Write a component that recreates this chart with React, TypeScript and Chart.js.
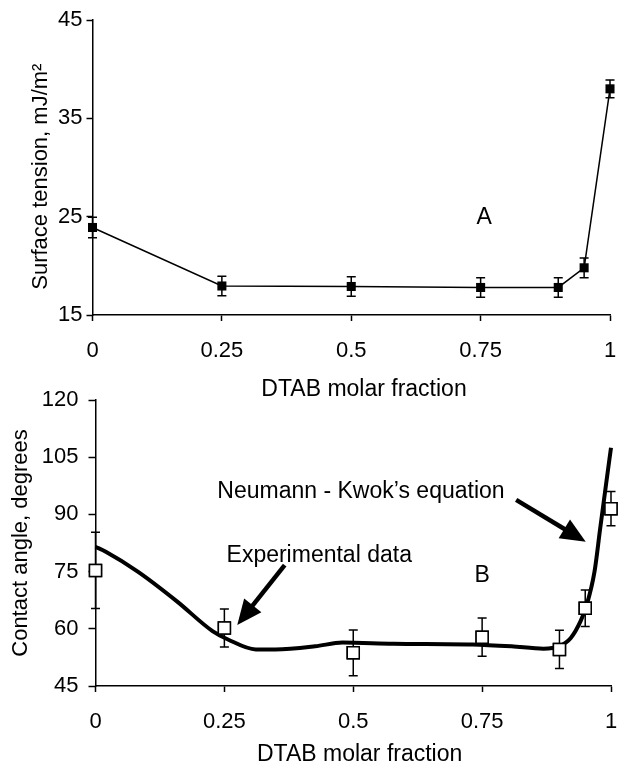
import React, { useEffect, useRef } from "react";
import { Chart, registerables } from "chart.js";

Chart.register(...registerables);

const FONT = '"Liberation Sans", Arial, Helvetica, sans-serif';
const FS = 22;
const FS_TEXT = 23;

// ---- data ----
const X_TICKS = [0, 0.25, 0.5, 0.75, 1];
const X_TICK_LABELS = ["0", "0.25", "0.5", "0.75", "1"];
const X_TITLE = "DTAB molar fraction";

const DTAB_FRACTION = [0, 0.25, 0.5, 0.75, 0.9, 0.95, 1];

const ST_TICKS = [15, 25, 35, 45];
const SURFACE_TENSION = [23.9, 17.95, 17.9, 17.8, 17.8, 19.8, 38];
const SURFACE_TENSION_ERR = [1.05, 1, 1, 1, 1, 1, 0.9];
const ST_TITLE = "Surface tension, mJ/m\u00B2";

const CA_TICKS = [45, 60, 75, 90, 105, 120];
const CONTACT_ANGLE = [75.3, 60.2, 53.7, 57.8, 54.6, 65.4, 91.5];
const CONTACT_ANGLE_ERR = [10, 5, 6, 5, 5, 4.8, 4.5];
const CA_TITLE = "Contact angle, degrees";

const NK_X = [0, 0.02, 0.082, 0.158, 0.227, 0.257, 0.311, 0.349, 0.426, 0.479, 0.578, 0.731, 0.807, 0.869, 0.899, 0.922, 0.941, 0.953, 0.968, 0.979, 0.991, 1.0];
const NK_Y = [81.5, 80.2, 75, 67.2, 59.4, 57.2, 54.6, 54.6, 55.4, 56.4, 56.1, 55.9, 55.4, 54.8, 55.4, 57.6, 62, 66.3, 75, 86.3, 98.5, 107.5];

const TOP_NOTES = [{ x: 0.757, y: 24.9, text: "A" }];
const BOTTOM_NOTES = [
  { x: 0.75, y: 74, text: "B" },
  { x: 0.434, y: 79.1, text: "Experimental data" },
  { x: 0.515, y: 95.9, text: "Neumann - Kwok\u2019s equation" },
];
const BOTTOM_ARROWS = [
  { x1: 0.367, y1: 76.7, x2: 0.275, y2: 61 },
  { x1: 0.816, y1: 93.8, x2: 0.951, y2: 82.8 },
];

// ---- plugins ----
const errorBarPlugin = {
  id: "errorBars",
  afterDatasetsDraw(chart: any, _args: any, opts: any) {
    if (!opts || !opts.errors) return;
    const { ctx, scales } = chart;
    const meta = chart.getDatasetMeta(opts.datasetIndex);
    const ds = chart.data.datasets[opts.datasetIndex];
    ctx.save();
    ctx.strokeStyle = "#000";
    ctx.lineWidth = opts.lineWidth || 1.5;
    ds.data.forEach((p: any, i: number) => {
      const e = opts.errors[i];
      const x = scales.x.getPixelForValue(p.x);
      const yt = scales.y.getPixelForValue(p.y + e);
      const yb = scales.y.getPixelForValue(p.y - e);
      const c = opts.cap;
      ctx.beginPath();
      ctx.moveTo(x, yt);
      ctx.lineTo(x, yb);
      ctx.moveTo(x - c, yt);
      ctx.lineTo(x + c, yt);
      ctx.moveTo(x - c, yb);
      ctx.lineTo(x + c, yb);
      ctx.stroke();
    });
    ctx.restore();
    if (opts.redraw && meta && meta.controller) {
      ctx.save();
      meta.data.forEach((el: any) => el.draw(ctx, chart.chartArea));
      ctx.restore();
    }
  },
};

const notesPlugin = {
  id: "notes",
  afterDraw(chart: any, _args: any, opts: any) {
    if (!opts) return;
    const { ctx, scales } = chart;
    ctx.save();
    ctx.fillStyle = "#000";
    ctx.strokeStyle = "#000";
    ctx.font = `${FS_TEXT}px ${FONT}`;
    ctx.textAlign = "center";
    ctx.textBaseline = "middle";
    (opts.texts || []).forEach((t: any) => {
      ctx.fillText(t.text, scales.x.getPixelForValue(t.x), scales.y.getPixelForValue(t.y));
    });
    (opts.arrows || []).forEach((a: any) => {
      const x1 = scales.x.getPixelForValue(a.x1);
      const y1 = scales.y.getPixelForValue(a.y1);
      const x2 = scales.x.getPixelForValue(a.x2);
      const y2 = scales.y.getPixelForValue(a.y2);
      const ang = Math.atan2(y2 - y1, x2 - x1);
      const hl = 25;
      const hw = 11;
      const bx = x2 - hl * Math.cos(ang);
      const by = y2 - hl * Math.sin(ang);
      ctx.lineWidth = 4.5;
      ctx.beginPath();
      ctx.moveTo(x1, y1);
      ctx.lineTo(bx + 2 * Math.cos(ang), by + 2 * Math.sin(ang));
      ctx.stroke();
      ctx.beginPath();
      ctx.moveTo(x2, y2);
      ctx.lineTo(bx + hw * Math.sin(ang), by - hw * Math.cos(ang));
      ctx.lineTo(bx - hw * Math.sin(ang), by + hw * Math.cos(ang));
      ctx.closePath();
      ctx.fill();
    });
    ctx.restore();
  },
};

function zeroPad(s: any) {
  s.paddingLeft = 0;
  s.paddingRight = 0;
  s.paddingTop = 0;
  s.paddingBottom = 0;
}

function xAxis(height: number, titlePad: number, tickLen: number, titleText: string) {
  return {
    type: "linear",
    min: 0,
    max: 1,
    afterBuildTicks: (s: any) => {
      s.ticks = X_TICKS.map((v) => ({ value: v }));
    },
    ticks: {
      callback: (_v: any, i: number) => X_TICK_LABELS[i],
      color: "#000",
      font: { family: FONT, size: FS },
      padding: 17,
      maxRotation: 0,
      autoSkip: false,
    },
    grid: { display: true, drawOnChartArea: false, drawTicks: true, tickLength: tickLen, tickColor: "#000", tickWidth: 1.5 },
    border: { display: true, color: "#000", width: 1.5 },
    title: { display: true, text: titleText, color: "#000", font: { family: FONT, size: FS_TEXT }, padding: { top: 0, bottom: titlePad } },
    afterFit: (s: any) => {
      s.height = height;
      zeroPad(s);
    },
  };
}

function yAxis(ticks: number[], title: string, width: number, titlePad: number, tickLen: number, labelPad: number) {
  return {
    type: "linear",
    min: ticks[0],
    max: ticks[ticks.length - 1],
    afterBuildTicks: (s: any) => {
      s.ticks = ticks.map((v) => ({ value: v }));
    },
    ticks: {
      callback: (_v: any, i: number) => String(ticks[i]),
      color: "#000",
      font: { family: FONT, size: FS },
      padding: labelPad,
      autoSkip: false,
    },
    grid: { display: true, drawOnChartArea: false, drawTicks: true, tickLength: tickLen, tickColor: "#000", tickWidth: 1.5 },
    border: { display: true, color: "#000", width: 1.5 },
    title: { display: true, text: title, color: "#000", font: { family: FONT, size: FS }, padding: { top: titlePad, bottom: 0 } },
    afterFit: (s: any) => {
      s.width = width;
      zeroPad(s);
    },
  };
}

function useChart(ref: React.RefObject<HTMLCanvasElement | null>, makeConfig: () => any) {
  useEffect(() => {
    if (!ref.current) return;
    const chart = new Chart(ref.current, makeConfig());
    return () => chart.destroy();
  }, []);
}

export default function App() {
  const topRef = useRef<HTMLCanvasElement>(null);
  const botRef = useRef<HTMLCanvasElement>(null);

  useChart(topRef, () => ({
    type: "line",
    data: {
      datasets: [
        {
          data: DTAB_FRACTION.map((x, i) => ({ x, y: SURFACE_TENSION[i] })),
          borderColor: "#000",
          borderWidth: 1.5,
          pointStyle: "rect",
          pointRadius: 6.4,
          pointBorderWidth: 0,
          pointBackgroundColor: "#000",
          tension: 0,
          clip: false,
        },
      ],
    },
    options: {
      responsive: false,
      devicePixelRatio: 1,
      animation: false,
      layout: { autoPadding: false, padding: { top: 20, right: 9, left: 0, bottom: 0 } },
      plugins: {
        legend: { display: false },
        tooltip: { enabled: false },
        errorBars: { datasetIndex: 0, errors: SURFACE_TENSION_ERR, cap: 4.5, lineWidth: 1.5, redraw: false },
        notes: { texts: TOP_NOTES, arrows: [] },
      },
      scales: {
        x: xAxis(85, -3, 6, "    " + X_TITLE),
        y: yAxis(ST_TICKS, ST_TITLE + "   ", 92.5, 28, 6, 4),
      },
    },
    plugins: [errorBarPlugin, notesPlugin],
  }));

  useChart(botRef, () => ({
    type: "line",
    data: {
      datasets: [
        {
          data: CONTACT_ANGLE.map((y, i) => ({ x: DTAB_FRACTION[i], y })),
          showLine: false,
          pointStyle: "rect",
          pointRadius: 8.5,
          pointBorderWidth: 1.5,
          pointBorderColor: "#000",
          pointBackgroundColor: "#fff",
          order: 0,
          clip: false,
        },
        {
          data: NK_X.map((x, i) => ({ x, y: NK_Y[i] })),
          borderColor: "#000",
          borderWidth: 4,
          pointRadius: 0,
          cubicInterpolationMode: "monotone",
          order: 1,
          clip: false,
        },
      ],
    },
    options: {
      responsive: false,
      devicePixelRatio: 1,
      animation: false,
      layout: { autoPadding: false, padding: { top: 40, right: 8, left: 0, bottom: 0 } },
      plugins: {
        legend: { display: false },
        tooltip: { enabled: false },
        errorBars: { datasetIndex: 0, errors: CONTACT_ANGLE_ERR, cap: 4.5, lineWidth: 1.5, redraw: true },
        notes: { texts: BOTTOM_NOTES, arrows: BOTTOM_ARROWS },
      },
      scales: {
        x: xAxis(78, -4, 6, "  " + X_TITLE),
        y: yAxis(CA_TICKS, CA_TITLE, 95.5, 8, 7, 10),
      },
    },
    plugins: [errorBarPlugin, notesPlugin],
  }));

  return (
    <div style={{ position: "absolute", left: 0, top: 0, width: 619, height: 764, overflow: "hidden", background: "#fff" }}>
      <canvas ref={topRef} width={619} height={400} style={{ position: "absolute", left: 0, top: 0, width: 619, height: 400 }} />
      <canvas ref={botRef} width={619} height={404} style={{ position: "absolute", left: 0, top: 360, width: 619, height: 404 }} />
    </div>
  );
}
